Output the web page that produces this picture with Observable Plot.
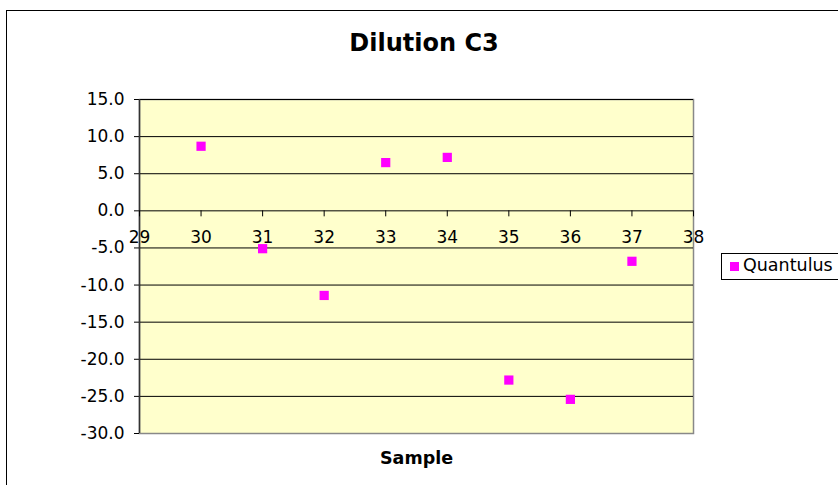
<!DOCTYPE html>
<html>
<head>
<meta charset="utf-8">
<script src="https://cdn.jsdelivr.net/npm/d3@7"></script>
<script src="https://cdn.jsdelivr.net/npm/@observablehq/plot@0.6"></script>
<style>
  html, body { margin: 0; padding: 0; background: #fff; }
  #wrap { position: relative; width: 838px; height: 485px; overflow: hidden; font-family: "DejaVu Sans", Verdana, sans-serif; }
  #frame { position: absolute; left: 6px; top: 10px; width: 900px; height: 600px; border: 1.5px solid #000; box-sizing: border-box; }
  #title { position: absolute; left: 0; width: 848px; top: 29px; text-align: center; font-weight: bold; font-size: 24px; color: #000; }
  #legend { position: absolute; left: 721px; top: 253px; width: 200px; height: 27px; border: 1px solid #000; box-sizing: border-box; background: #fff; font-size: 17.5px; }
  #legend .sw { position: absolute; left: 8px; top: 8px; width: 9px; height: 9px; background: #FF00FF; }
  #legend .lb { position: absolute; left: 21px; top: 1px; }
  #chart { position: absolute; left: 0; top: 0; }
</style>
</head>
<body>
<div id="wrap">
  <div id="frame"></div>
  <div id="chart"></div>
  <div id="title">Dilution C3</div>
  <div id="legend"><div class="sw"></div><div class="lb">Quantulus</div></div>
</div>
<script>
const samples = [30, 31, 32, 33, 34, 35, 36, 37];
const quantulus = [8.7, -5.1, -11.4, 6.5, 7.2, -22.8, -25.4, -6.8];
const xTicks = [29, 30, 31, 32, 33, 34, 35, 36, 37, 38];
const yTicks = [-30, -25, -20, -15, -10, -5, 0, 5, 10, 15];
const gridValues = [-25, -20, -15, -10, -5, 0, 5, 10, 15];

const data = samples.map((s, i) => ({sample: s, value: quantulus[i]}));

const chart = Plot.plot({
  width: 838,
  height: 485,
  marginLeft: 139,
  marginRight: 145,
  marginTop: 99,
  marginBottom: 52,
  style: {fontFamily: '"DejaVu Sans", Verdana, sans-serif', fontSize: "17px", background: "transparent", color: "#000"},
  x: {domain: [29, 38], axis: null},
  y: {domain: [-30, 15], axis: null},
  marks: [
    Plot.frame({fill: "#FFFFCC", stroke: "#888888", strokeWidth: 1.5}),
    Plot.ruleY(gridValues, {stroke: "#000", strokeWidth: 1}),
    Plot.axisY({ticks: yTicks, tickFormat: d => d.toFixed(1), tickSize: 5, tickPadding: 10, label: null, fontSize: 17}),
    Plot.ruleX([29], {stroke: "#333", strokeWidth: 1.5}),
    Plot.ruleX(xTicks, {x: d => d, y1: 0, y2: 0, insetBottom: -6, stroke: "#000"}),
    Plot.text(xTicks, {x: d => d, y: 0, text: d => String(d), dy: 27, fontSize: 17, fill: "#000"}),
    Plot.dot(data, {x: "sample", y: "value", symbol: "square", r: 5.2, fill: "#FF00FF", stroke: "none"}),
    Plot.text(["Sample"], {frameAnchor: "bottom", text: d => d, dy: 30, fontWeight: "bold", fontSize: 17.5, fill: "#000"})
  ]
});

document.getElementById("chart").appendChild(chart);
</script>
</body>
</html>
